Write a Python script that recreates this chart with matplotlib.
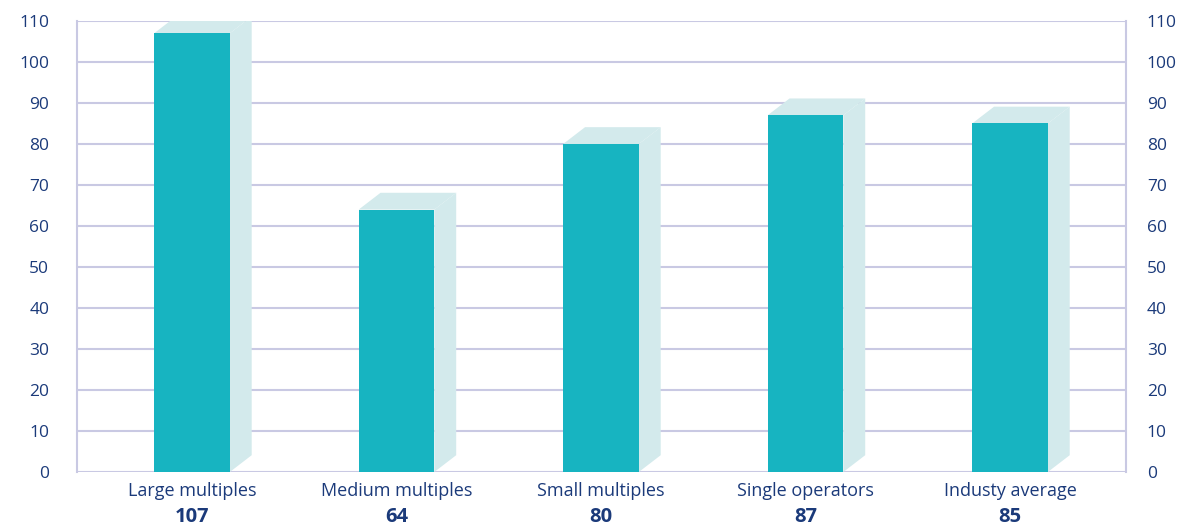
import matplotlib.pyplot as plt
from matplotlib.patches import Polygon
from matplotlib.transforms import blended_transform_factory

categories = ["Large multiples", "Medium multiples", "Small multiples",
              "Single operators", "Industy average"]
values = [107, 64, 80, 87, 85]
yticks = list(range(0, 111, 10))

front = "#17b4c1"
shade = "#d3eaec"
grid = "#c9c9e3"
navy = "#1b3a7a"

plt.rcParams["font.family"] = ["Open Sans", "DejaVu Sans"]

fig = plt.figure(figsize=(11.8, 5.31), dpi=100)
ax = fig.add_axes([0.0653, 0.1111, 0.8889, 0.8494])

# front face + light side/top faces for a pseudo-3D look
w = 0.37
dx, dy = 0.107, 4.1
for i, v in enumerate(values):
    l, r = i - w / 2, i + w / 2
    side = Polygon([(r, 0), (r + dx, dy), (r + dx, v + dy), (r, v)],
                   closed=True, facecolor=shade, edgecolor="none", zorder=3)
    top = Polygon([(l, v), (l + dx, v + dy), (r + dx, v + dy), (r, v)],
                  closed=True, facecolor=shade, edgecolor="none", zorder=3)
    ax.add_patch(side)
    ax.add_patch(top)
    ax.bar(i, v, width=w, color=front, zorder=4)

ax.set_xlim(-0.562, 4.567)
ax.set_ylim(0, 110)
ax.set_yticks(yticks)
ax.set_xticks([])
for y in yticks:
    ax.axhline(y, color=grid, lw=1.5, zorder=1)
for s in ["left", "right"]:
    ax.spines[s].set_color(grid)
    ax.spines[s].set_linewidth(1.5)
for s in ["top", "bottom"]:
    ax.spines[s].set_visible(False)

ax.tick_params(axis="y", length=0, pad=20, labelsize=12.5, labelcolor=navy)
ax2 = ax.twinx()
ax2.set_ylim(0, 110)
ax2.set_yticks(yticks)
ax2.tick_params(axis="y", length=0, pad=15, labelsize=12.5, labelcolor=navy)
for s in ax2.spines.values():
    s.set_visible(False)

trans = blended_transform_factory(ax.transData, ax.transAxes)
for i, (c, v) in enumerate(zip(categories, values)):
    ax.text(i, -0.022, c, transform=trans, ha="center", va="top",
            fontsize=13, color=navy)
    ax.text(i, -0.078, str(v), transform=trans, ha="center", va="top",
            fontsize=14.5, fontweight="bold", color=navy)

fig.savefig("out.png", dpi=100)
